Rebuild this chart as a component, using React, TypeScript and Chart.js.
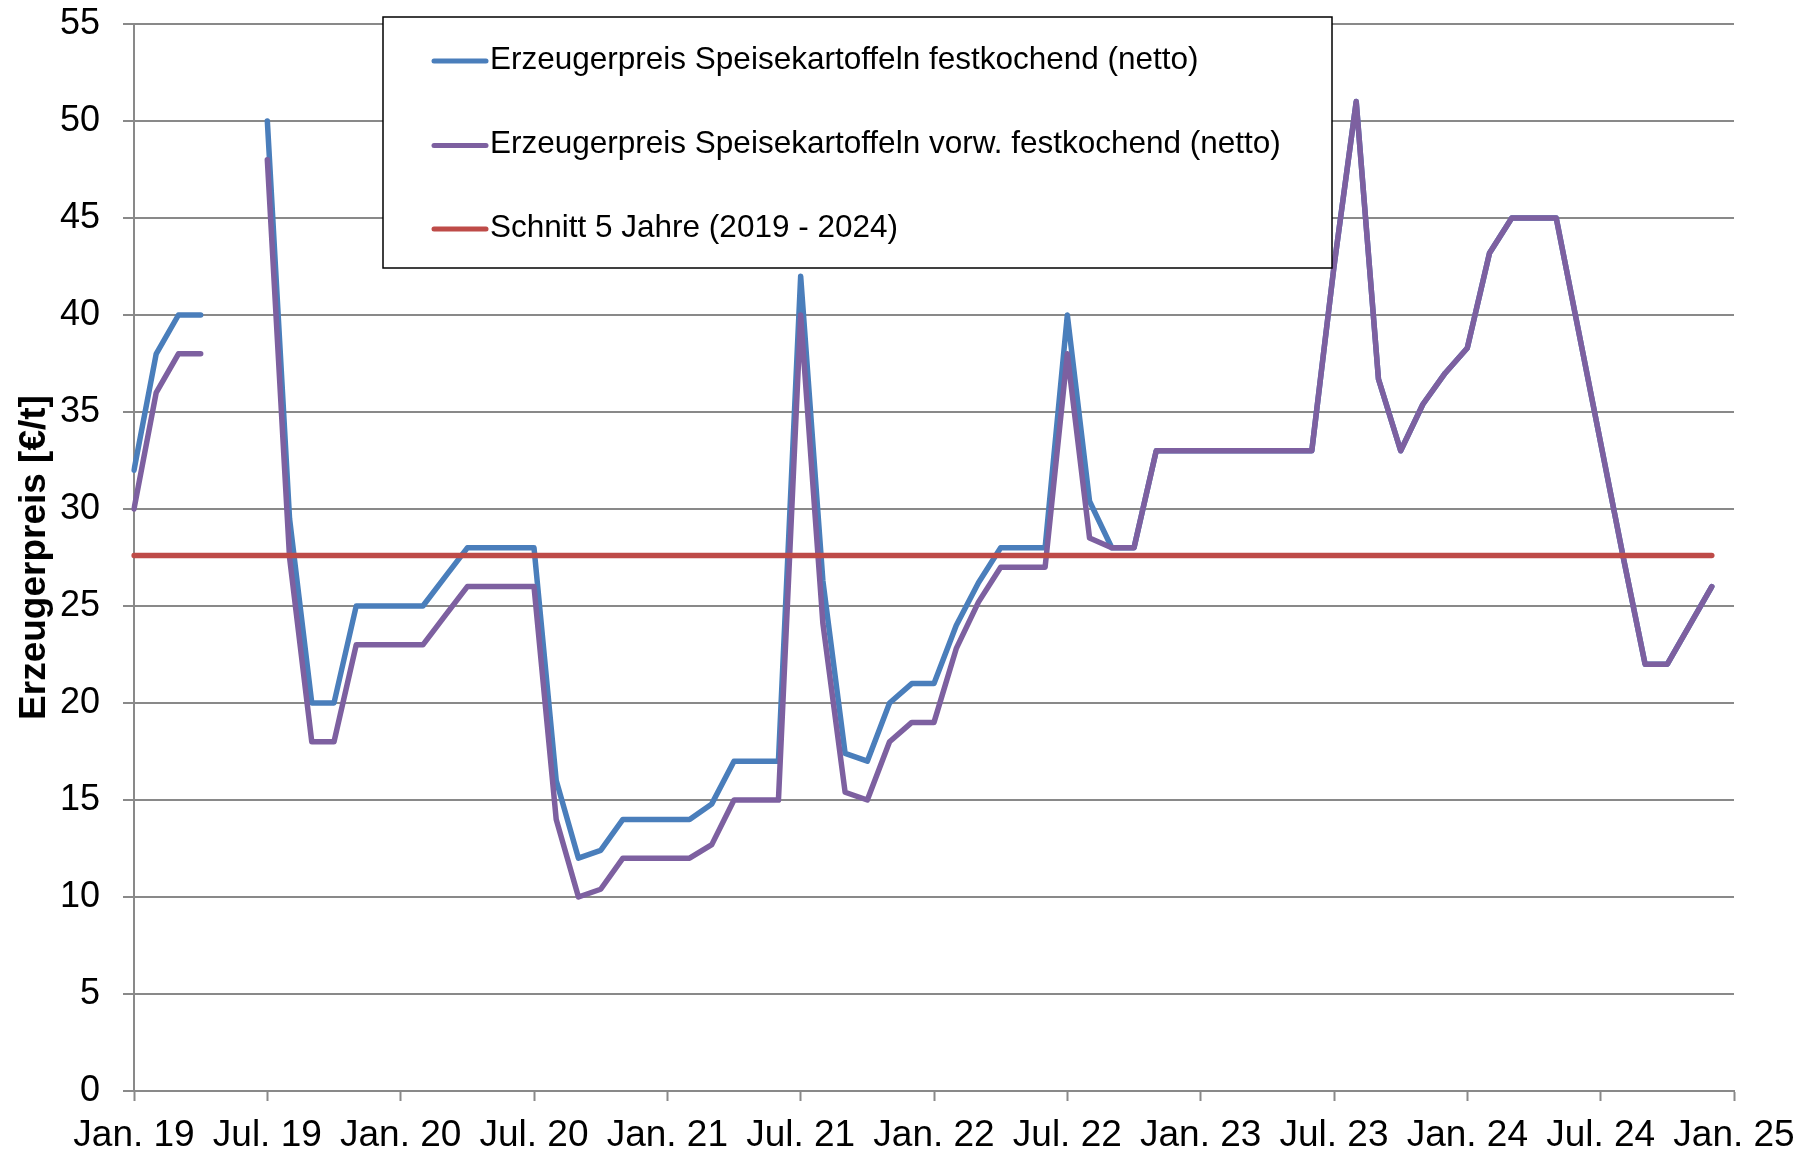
import React, { useEffect, useRef } from "react";
import { Chart, registerables } from "chart.js";

Chart.register(...registerables);

// ---- Data ----
const months = [
  "Jan. 19", "Feb. 19", "Mrz. 19", "Apr. 19", "Mai 19", "Jun. 19", "Jul. 19", "Aug. 19", "Sep. 19", "Okt. 19", "Nov. 19", "Dez. 19",
  "Jan. 20", "Feb. 20", "Mrz. 20", "Apr. 20", "Mai 20", "Jun. 20", "Jul. 20", "Aug. 20", "Sep. 20", "Okt. 20", "Nov. 20", "Dez. 20",
  "Jan. 21", "Feb. 21", "Mrz. 21", "Apr. 21", "Mai 21", "Jun. 21", "Jul. 21", "Aug. 21", "Sep. 21", "Okt. 21", "Nov. 21", "Dez. 21",
  "Jan. 22", "Feb. 22", "Mrz. 22", "Apr. 22", "Mai 22", "Jun. 22", "Jul. 22", "Aug. 22", "Sep. 22", "Okt. 22", "Nov. 22", "Dez. 22",
  "Jan. 23", "Feb. 23", "Mrz. 23", "Apr. 23", "Mai 23", "Jun. 23", "Jul. 23", "Aug. 23", "Sep. 23", "Okt. 23", "Nov. 23", "Dez. 23",
  "Jan. 24", "Feb. 24", "Mrz. 24", "Apr. 24", "Mai 24", "Jun. 24", "Jul. 24", "Aug. 24", "Sep. 24", "Okt. 24", "Nov. 24", "Dez. 24",
  "Jan. 25",
];

const festkochend: (number | null)[] = [
  32, 38, 40, 40, null, null, 50, 29.5, 20, 20, 25, 25,
  25, 25, 26.5, 28, 28, 28, 28, 16, 12, 12.4, 14, 14,
  14, 14, 14.8, 17, 17, 17, 42, 26.3, 17.4, 17, 20, 21,
  21, 24, 26.2, 28, 28, 28, 40, 30.4, 28, 28, 33, 33,
  33, 33, 33, 33, 33, 33, 42.5, 51, 36.7, 33, 35.4, 37,
  38.3, 43.2, 45, 45, 45, 39.2, 33.4, 27.6, 22, 22, 24, 26,
  null,
];

const vorwFestkochend: (number | null)[] = [
  30, 36, 38, 38, null, null, 48, 27.5, 18, 18, 23, 23,
  23, 23, 24.5, 26, 26, 26, 26, 14, 10, 10.4, 12, 12,
  12, 12, 12.7, 15, 15, 15, 40, 24.1, 15.4, 15, 18, 19,
  19, 22.8, 25.2, 27, 27, 27, 38, 28.5, 28, 28, 33, 33,
  33, 33, 33, 33, 33, 33, 42.5, 51, 36.7, 33, 35.4, 37,
  38.3, 43.2, 45, 45, 45, 39.2, 33.4, 27.6, 22, 22, 24, 26,
  null,
];

const schnitt5Jahre: (number | null)[] = [
  27.6, 27.6, 27.6, 27.6, 27.6, 27.6, 27.6, 27.6, 27.6, 27.6, 27.6, 27.6,
  27.6, 27.6, 27.6, 27.6, 27.6, 27.6, 27.6, 27.6, 27.6, 27.6, 27.6, 27.6,
  27.6, 27.6, 27.6, 27.6, 27.6, 27.6, 27.6, 27.6, 27.6, 27.6, 27.6, 27.6,
  27.6, 27.6, 27.6, 27.6, 27.6, 27.6, 27.6, 27.6, 27.6, 27.6, 27.6, 27.6,
  27.6, 27.6, 27.6, 27.6, 27.6, 27.6, 27.6, 27.6, 27.6, 27.6, 27.6, 27.6,
  27.6, 27.6, 27.6, 27.6, 27.6, 27.6, 27.6, 27.6, 27.6, 27.6, 27.6, 27.6,
  null,
];

const seriesLabels = [
  "Erzeugerpreis Speisekartoffeln festkochend (netto)",
  "Erzeugerpreis Speisekartoffeln vorw. festkochend (netto)",
  "Schnitt 5 Jahre (2019 - 2024)",
];

const yAxisTitle = "Erzeugerpreis [€/t]";

// ---- Styles ----
const FONT = '"Liberation Sans", Arial, Helvetica, sans-serif';
const BLUE = "#4A7EBB";
const PURPLE = "#7D60A0";
const RED = "#BE4B48";
const GRID = "#898989";

const boxLegend = {
  id: "boxLegend",
  afterDraw(chart: any) {
    const ctx = chart.ctx as CanvasRenderingContext2D;
    const x0 = 383;
    const y0 = 17;
    const w = 949;
    const h = 251;
    ctx.save();
    ctx.fillStyle = "#ffffff";
    ctx.fillRect(x0, y0, w, h);
    ctx.strokeStyle = "#000000";
    ctx.lineWidth = 1.5;
    ctx.strokeRect(x0, y0, w, h);
    const rowY = [44, 128.5, 212];
    chart.data.datasets.forEach((ds: any, i: number) => {
      const y = y0 + rowY[i];
      ctx.strokeStyle = ds.borderColor;
      ctx.lineWidth = 5;
      ctx.lineCap = "round";
      ctx.beginPath();
      ctx.moveTo(x0 + 51, y);
      ctx.lineTo(x0 + 103, y);
      ctx.stroke();
      ctx.fillStyle = "#000000";
      ctx.font = `31.5px ${FONT}`;
      ctx.textBaseline = "middle";
      ctx.textAlign = "left";
      ctx.fillText(ds.label, x0 + 107, y - 1);
    });
    ctx.restore();
  },
};

export default function App() {
  const ref = useRef<HTMLCanvasElement>(null);

  useEffect(() => {
    const canvas = ref.current;
    if (!canvas) return;
    Chart.defaults.font.family = FONT;
    const chart = new Chart(canvas, {
      type: "line",
      data: {
        labels: months,
        datasets: [
          { label: seriesLabels[0], data: festkochend, borderColor: BLUE, backgroundColor: BLUE, order: 2 },
          { label: seriesLabels[1], data: vorwFestkochend, borderColor: PURPLE, backgroundColor: PURPLE, order: 1 },
          { label: seriesLabels[2], data: schnitt5Jahre, borderColor: RED, backgroundColor: RED, order: 0 },
        ],
      },
      options: {
        responsive: false,
        animation: false,
        spanGaps: false,
        layout: { padding: { top: 24, right: 77, left: 0, bottom: 0 } },
        elements: {
          point: { radius: 0, hoverRadius: 0 },
          line: { borderWidth: 5.5, tension: 0, borderJoinStyle: "round", borderCapStyle: "round", fill: false },
        },
        plugins: { legend: { display: false }, tooltip: { enabled: false } },
        scales: {
          x: {
            type: "category",
            offset: false,
            afterFit: (s: any) => {
              s.height = 64;
              s.paddingLeft = 0;
              s.paddingRight = 0;
            },
            grid: {
              drawOnChartArea: false,
              drawTicks: true,
              tickLength: 10,
              tickWidth: 2,
              tickColor: (c: any) => (c.index % 6 === 0 ? GRID : "rgba(0,0,0,0)"),
            },
            border: { display: true, color: GRID, width: 2 },
            ticks: {
              autoSkip: false,
              maxRotation: 0,
              minRotation: 0,
              padding: 13,
              color: "#000000",
              font: { size: 37 },
              callback: (_v: any, i: number) => (i % 6 === 0 ? months[i] : ""),
            },
          },
          y: {
            min: 0,
            max: 55,
            afterFit: (s: any) => {
              s.width = 134;
              s.paddingTop = 0;
              s.paddingBottom = 0;
            },
            grid: { color: GRID, lineWidth: 2, tickLength: 11, drawTicks: true },
            border: { display: true, color: GRID, width: 2 },
            ticks: { stepSize: 5, padding: 23, color: "#000000", font: { size: 36 } },
            title: {
              display: true,
              text: yAxisTitle,
              color: "#000000",
              font: { size: 37, weight: "bold" },
              padding: { top: 13, bottom: 0 },
            },
          },
        },
      } as any,
      plugins: [boxLegend],
    });
    return () => chart.destroy();
  }, []);

  return (
    <div style={{ position: "absolute", left: 0, top: 0, width: 1811, height: 1155, background: "#ffffff" }}>
      <canvas ref={ref} width={1811} height={1155} />
    </div>
  );
}
